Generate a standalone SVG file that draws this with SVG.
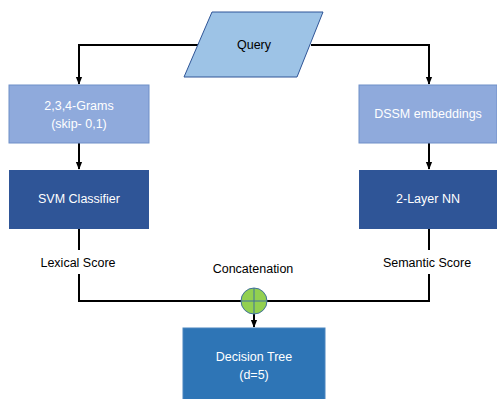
<svg xmlns="http://www.w3.org/2000/svg" width="497" height="399" viewBox="0 0 497 399">
<style>
.lbl{font-family:"Liberation Sans",Arial,sans-serif;font-size:12.5px;text-anchor:middle;dominant-baseline:central}
.dark{fill:#000}
.light{fill:#fff}
.conn{stroke:#000;stroke-width:2;fill:none}
</style>
<defs>
<marker id="ah" viewBox="0 0 10 10" refX="9" refY="5" markerWidth="4" markerHeight="4" orient="auto" markerUnits="strokeWidth">
<path d="M0,1 L10,5 L0,9 z" fill="#000"/>
</marker>
</defs>
<rect width="497" height="399" fill="#fff"/>
<g id="connectors">
<path class="conn" d="M199,45 H79 V84" marker-end="url(#ah)"/>
<path class="conn" d="M311,45 H429 V84" marker-end="url(#ah)"/>
<path class="conn" d="M79,143 V169" marker-end="url(#ah)"/>
<path class="conn" d="M429,143 V169" marker-end="url(#ah)"/>
<path class="conn" d="M79,229 V250"/>
<path class="conn" d="M79,274 V301 H241"/>
<path class="conn" d="M429,229 V250"/>
<path class="conn" d="M429,274 V301 H267"/>
<path class="conn" d="M254,314 V327" marker-end="url(#ah)"/>
</g>
<g id="query">
<polygon points="212,12 323,12 297,77 184,77" fill="#9DC3E6" stroke="#2F5597" stroke-width="1"/>
<text class="lbl dark" x="254" y="45" font-size="13">Query</text>
</g>
<g id="grams">
<rect x="9" y="85" width="140" height="58" fill="#8FAADC" stroke="#6F8FC8" stroke-width="1"/>
<text class="lbl light" x="79" y="106">2,3,4-Grams</text>
<text class="lbl light" x="79" y="124">(skip- 0,1)</text>
</g>
<g id="dssm">
<rect x="359" y="85" width="138" height="58" fill="#8FAADC" stroke="#6F8FC8" stroke-width="1"/>
<text class="lbl light" x="428" y="114">DSSM embeddings</text>
</g>
<g id="svm">
<rect x="9" y="170" width="140" height="59" fill="#2F5597"/>
<text class="lbl light" x="79" y="199">SVM Classifier</text>
</g>
<g id="nn">
<rect x="359" y="170" width="138" height="59" fill="#2F5597"/>
<text class="lbl light" x="428" y="199">2-Layer NN</text>
</g>
<g id="lexical">
<text class="lbl dark" x="78" y="263">Lexical Score</text>
</g>
<g id="semantic">
<text class="lbl dark" x="427" y="263">Semantic Score</text>
</g>
<g id="concat">
<text class="lbl dark" x="253" y="269">Concatenation</text>
<circle cx="254" cy="301" r="13" fill="#92D050" stroke="#41719C" stroke-width="1"/>
<path d="M241,301 H267 M254,288 V314" stroke="#41719C" stroke-width="1"/>
</g>
<g id="tree">
<rect x="183" y="328" width="142" height="75" fill="#2E75B6" stroke="#4A86C0" stroke-width="1"/>
<text class="lbl light" x="254" y="357">Decision Tree</text>
<text class="lbl light" x="254" y="375">(d=5)</text>
</g>
</svg>
